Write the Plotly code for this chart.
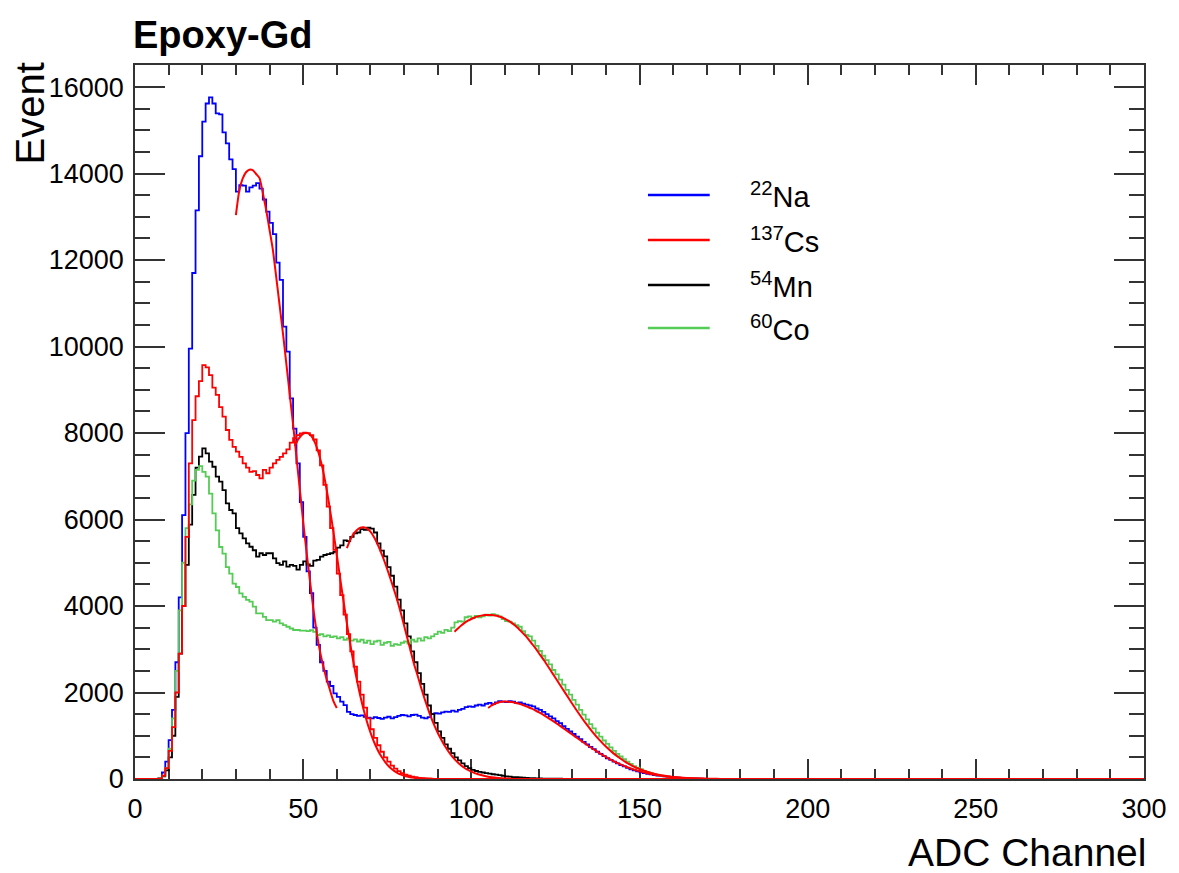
import numpy as np
import plotly.graph_objects as go

# ---------------- data (ADC channel histograms, 1 channel bins, 0..300) ----------------
NBINS = 300
channel_edges = list(range(0, NBINS + 1))

na22_counts = [
    0, 0, 0, 0, 0, 0, 0, 20, 150, 400,
    900, 1600, 2700, 4200, 6100, 8000, 9950, 11700, 13150, 14400,
    15200, 15620, 15760, 15620, 15390, 15370, 14950, 14700, 14330, 14100,
    13580, 13730, 13720, 13580, 13680, 13720, 13780, 13650, 13400, 13120,
    12860, 12600, 11940, 11540, 10460, 9880, 8800, 8100, 7300, 6400,
    5600, 4800, 4300, 3500, 3100, 2700, 2500, 2250, 2150, 1980,
    1900, 1790, 1710, 1550, 1500, 1480, 1460, 1470, 1440, 1420,
    1400, 1430, 1410, 1390, 1420, 1440, 1400, 1430, 1460, 1480,
    1470, 1450, 1480, 1490, 1460, 1420, 1400, 1430, 1500, 1520,
    1510, 1540, 1560, 1550, 1580, 1560, 1600, 1620, 1660, 1680,
    1670, 1700, 1720, 1700, 1740, 1760, 1730, 1770, 1800, 1790,
    1780, 1800, 1790, 1760, 1770, 1740, 1720, 1700, 1680, 1630,
    1600, 1550, 1500, 1450, 1400, 1340, 1290, 1220, 1160, 1100,
    1040, 980, 920, 860, 800, 740, 690, 630, 580, 530,
    480, 440, 400, 360, 320, 290, 255, 225, 200, 175,
    155, 135, 120, 105, 92, 80, 70, 60, 52, 45,
    38, 32, 27, 22, 18, 14, 11, 8, 6, 4,
    3, 2, 1,
]

cs137_counts = [
    0, 0, 0, 0, 0, 0, 0, 10, 80, 250,
    650, 1200, 2000, 2900, 4000, 5600, 7300, 8300, 8850, 9200,
    9570, 9520, 9340, 9050, 8880, 8600, 8380, 8070, 7840, 7680,
    7570, 7450, 7300, 7200, 7100, 7120, 7030, 6950, 7150, 7070,
    7200, 7300, 7380, 7450, 7530, 7620, 7780, 7880, 7950, 7990,
    8010, 8000, 7950, 7850, 7600, 7250, 6800, 6300, 5800, 5300,
    4750, 4250, 3800, 3350, 2950, 2600, 2250, 1950, 1650, 1400,
    1150, 950, 780, 630, 500, 400, 310, 240, 180, 135,
    100, 75, 55, 40, 28, 20, 13, 8, 5, 3,
    2, 1,
]

mn54_counts = [
    0, 0, 0, 0, 0, 0, 0, 10, 60, 200,
    500, 1000, 1900, 2900, 4000, 4950, 5880, 6570, 7200, 7455,
    7645, 7530, 7340, 7220, 6990, 6875, 6680, 6375, 6220, 6140,
    5800, 5680, 5565, 5450, 5370, 5290, 5140, 5220, 5180, 5220,
    5220, 5100, 4990, 4950, 5030, 4910, 4950, 4930, 4840, 4950,
    5030, 4960, 4930, 5050, 5065, 5140, 5180, 5200, 5220, 5250,
    5350, 5400, 5520, 5500, 5600, 5680, 5700, 5780, 5760, 5810,
    5790, 5700, 5450, 5280, 5150, 4900, 4700, 4450, 4150, 3900,
    3600, 3300, 2950, 2700, 2450, 2200, 1950, 1700, 1500, 1300,
    1100, 950, 800, 700, 600, 500, 430, 360, 300, 250,
    210, 185, 165, 150, 135, 125, 110, 100, 90, 75,
    60, 55, 45, 40, 35, 30, 25, 20, 18, 15,
    12, 10, 9, 8, 7, 6, 6, 5, 4, 4,
    3, 3, 2, 2, 1, 1, 1, 1,
]

co60_counts = [
    0, 0, 0, 0, 0, 0, 0, 20, 80, 250,
    700, 1400, 2500, 3900, 5000, 5800, 6350, 6900, 7150, 7236,
    7100, 6990, 6600, 6140, 5750, 5365, 5210, 4900, 4750, 4520,
    4440, 4290, 4210, 4140, 4100, 3985, 3830, 3830, 3750, 3675,
    3675, 3640, 3675, 3600, 3560, 3520, 3480, 3445, 3445, 3430,
    3430, 3420, 3440, 3400, 3330, 3350, 3300, 3320, 3280, 3300,
    3250, 3280, 3220, 3250, 3200, 3230, 3180, 3220, 3150, 3200,
    3120, 3180, 3200, 3100, 3150, 3170, 3080, 3120, 3100, 3150,
    3180, 3130, 3220, 3180, 3250, 3200, 3280, 3250, 3300, 3350,
    3410, 3380, 3450, 3420, 3500, 3620, 3650, 3640, 3740, 3760,
    3720, 3770, 3740, 3760, 3800, 3780, 3810, 3790, 3760, 3700,
    3650, 3640, 3600, 3560, 3520, 3420, 3330, 3300, 3200, 3080,
    2960, 2850, 2750, 2650, 2520, 2420, 2300, 2180, 2060, 1950,
    1830, 1720, 1600, 1490, 1380, 1270, 1170, 1070, 980, 890,
    810, 730, 650, 580, 520, 460, 400, 350, 300, 260,
    225, 190, 160, 135, 115, 95, 80, 65, 52, 42,
    35, 28, 22, 18, 14, 11, 8, 6, 5, 4,
    3, 3, 2, 2, 1, 1, 0, 1, 0, 1,
    0, 0, 1,
]

# ---------------- fit curves ----------------
fit_na511_x = list(range(30, 61))
fit_na511_y = [13040, 13600, 13880, 14030, 14090, 14080, 13990, 13900, 13550, 13160,
               12700, 12230, 11600, 10950, 10300, 9600, 8900, 8200, 7450, 6700,
               5950, 5250, 4600, 3950, 3400, 2950, 2600, 2300, 2050, 1800, 1640]

fit_cs_x = [47.5, 48.5, 49.5, 50.5, 51.5, 52.5, 53.5, 54.5, 55.5, 56.5,
            57.5, 58.5, 59.5, 60.5, 61.5, 62.5, 63.5, 64.5, 65.5, 66.5,
            67.5, 68.5, 69.5, 70.5, 71.5, 72.5, 73.5, 74.5, 75.5, 76.5,
            77.5, 78.5, 79.5, 80.5, 81.5, 82.5, 83.5, 84.5, 85.5, 86.5,
            87.5, 88.5, 89.5, 90.5]
fit_cs_y = [7700, 7850, 7950, 8000, 7990, 7920, 7780, 7560, 7270, 6900,
            6460, 5970, 5450, 4910, 4370, 3850, 3350, 2890, 2470, 2090,
            1750, 1450, 1190, 970, 780, 620, 490, 380, 290, 220,
            165, 120, 90, 65, 48, 34, 24, 16, 11, 7,
            5, 3, 2, 1]

fit_mn_x = [63, 64, 65, 66, 67, 68, 69, 70, 71, 72,
            73, 74, 75, 76, 77, 78, 79, 80, 81, 82,
            83, 84, 85, 86, 87, 88, 89, 90, 91, 92,
            93, 94, 95, 96, 97, 98, 99, 100, 102, 104,
            106, 108, 110, 112]
fit_mn_y = [5340, 5530, 5670, 5760, 5810, 5820, 5790, 5720, 5600, 5450,
            5270, 5070, 4850, 4620, 4380, 4130, 3850, 3550, 3250, 2950,
            2650, 2400, 2130, 1880, 1650, 1430, 1240, 1070, 920, 780,
            660, 550, 460, 380, 310, 255, 210, 170, 110, 70,
            42, 25, 14, 8]

fit_na1275_x = [105, 106, 107, 108, 109, 110, 111, 112, 113, 114,
                115, 116, 117, 118, 119, 120, 122, 124, 126, 128,
                130, 132, 134, 136, 138, 140, 142, 144, 146, 148,
                150, 152, 154, 156, 158, 160, 162, 164, 166, 168, 170]
fit_na1275_y = [1640, 1700, 1740, 1770, 1785, 1790, 1788, 1780, 1765, 1745,
                1720, 1690, 1660, 1625, 1585, 1545, 1455, 1355, 1250, 1140,
                1030, 920, 810, 705, 605, 510, 425, 350, 283, 225,
                177, 137, 104, 78, 57, 41, 29, 20, 14, 9, 6]

fit_co_x = [95, 96, 97, 98, 99, 100, 101, 102, 103, 104,
            105, 106, 107, 108, 109, 110, 111, 112, 113, 114,
            115, 116, 117, 118, 119, 120, 122, 124, 126, 128,
            130, 132, 134, 136, 138, 140, 142, 144, 146, 148,
            150, 152, 154, 156, 158, 160, 162, 164, 166, 168,
            170, 172, 174, 176]
fit_co_y = [3406, 3480, 3550, 3610, 3660, 3700, 3735, 3760, 3778, 3790,
            3795, 3792, 3782, 3765, 3740, 3705, 3660, 3610, 3550, 3480,
            3400, 3320, 3230, 3130, 3030, 2920, 2700, 2460, 2220, 1980,
            1740, 1510, 1290, 1090, 910, 750, 610, 490, 385, 300,
            230, 175, 130, 95, 68, 48, 33, 22, 15, 10,
            6, 4, 2, 1]

legend_labels = ["<sup>22</sup>Na", "<sup>137</sup>Cs", "<sup>54</sup>Mn", "<sup>60</sup>Co"]
series_colors = ["#0000ff", "#ff0000", "#000000", "#55cc55"]
title_text = "Epoxy-Gd"
x_title = "ADC Channel"
y_title = "Event"
x_ticks = [0, 50, 100, 150, 200, 250, 300]
y_ticks = [0, 2000, 4000, 6000, 8000, 10000, 12000, 14000, 16000]

FONT = "Liberation Sans, Arial, Helvetica, sans-serif"


def pad(vals):
    return list(vals) + [0] * (NBINS - len(vals))


def step_y(vals):
    v = pad(vals)
    return v + [v[-1]]


fig = go.Figure()

hist_list = [
    (na22_counts, series_colors[0]),
    (mn54_counts, series_colors[2]),
    (co60_counts, series_colors[3]),
    (cs137_counts, series_colors[1]),
]
for counts, col in hist_list:
    fig.add_trace(go.Scatter(
        x=channel_edges, y=step_y(counts), mode="lines",
        line=dict(color=col, width=1.8, shape="hv"),
        showlegend=False, hoverinfo="skip"))

for fx, fy in [(fit_na511_x, fit_na511_y), (fit_cs_x, fit_cs_y), (fit_mn_x, fit_mn_y),
               (fit_na1275_x, fit_na1275_y), (fit_co_x, fit_co_y)]:
    fig.add_trace(go.Scatter(
        x=fx, y=fy, mode="lines",
        line=dict(color="#ff0000", width=2, shape="spline", smoothing=0.6),
        showlegend=False, hoverinfo="skip"))

# ---------------- layout ----------------
L, R, T, B = 135, 31, 65, 94
W, H = 1179, 873
pw, ph = W - L - R, H - T - B

axis_common = dict(
    showgrid=False, zeroline=False, showline=True, linecolor="#333333", linewidth=1.5,
    mirror="allticks", ticks="inside", tickcolor="#333333", tickwidth=1.5,
    tickfont=dict(family=FONT, size=27, color="black"),
    layer="below traces",
)

fig.update_layout(
    width=W, height=H,
    margin=dict(l=L, r=R, t=T, b=B),
    paper_bgcolor="white", plot_bgcolor="white",
    showlegend=False,
    font=dict(family=FONT, color="black"),
    xaxis=dict(range=[0, 300], tickmode="array", tickvals=x_ticks,
               ticktext=[str(v) for v in x_ticks], ticklen=20,
               minor=dict(dtick=10, tick0=0, ticks="inside", ticklen=10,
                          tickcolor="#333333", tickwidth=1.5),
               ticklabelstandoff=5, **axis_common),
    yaxis=dict(range=[0, 16510], tickmode="array", tickvals=y_ticks,
               ticktext=[str(v) for v in y_ticks], ticklen=30,
               minor=dict(dtick=500, tick0=0, ticks="inside", ticklen=15,
                          tickcolor="#333333", tickwidth=1.5),
               ticklabelstandoff=4, **axis_common),
)

annotations = [
    dict(text="<b>%s</b>" % title_text, xref="paper", yref="paper",
         x=(131 - L) / pw, y=1 + (T - 35) / ph, xanchor="left", yanchor="middle",
         showarrow=False, font=dict(family=FONT, size=38, color="black")),
    dict(text=x_title, xref="paper", yref="paper",
         x=(1152 - L) / pw, y=-(852 - (T + ph)) / ph, xanchor="right", yanchor="middle",
         showarrow=False, font=dict(family=FONT, size=39, color="black")),
    dict(text=y_title, xref="paper", yref="paper", textangle=-90,
         x=(30 - L) / pw, y=1 + (T - 60) / ph, xanchor="center", yanchor="top",
         showarrow=False, font=dict(family=FONT, size=40, color="black")),
]

shapes = []
legend_y_px = [195, 240, 285, 328]
for lab, col, ypx in zip(legend_labels, series_colors, legend_y_px):
    yp = (T + ph - ypx) / ph
    shapes.append(dict(type="line", xref="paper", yref="paper",
                       x0=(650 - L) / pw, x1=(712 - L) / pw, y0=yp, y1=yp,
                       line=dict(color=col, width=2.5)))
    annotations.append(dict(text=lab, xref="paper", yref="paper",
                            x=(750 - L) / pw, y=yp, xanchor="left", yanchor="middle",
                            showarrow=False, font=dict(family=FONT, size=29, color="black")))

fig.update_layout(annotations=annotations, shapes=shapes)

fig.write_html("out.html",
               config={"displayModeBar": False},
               post_script="document.body.style.margin='0px';document.body.style.overflow='hidden';")
